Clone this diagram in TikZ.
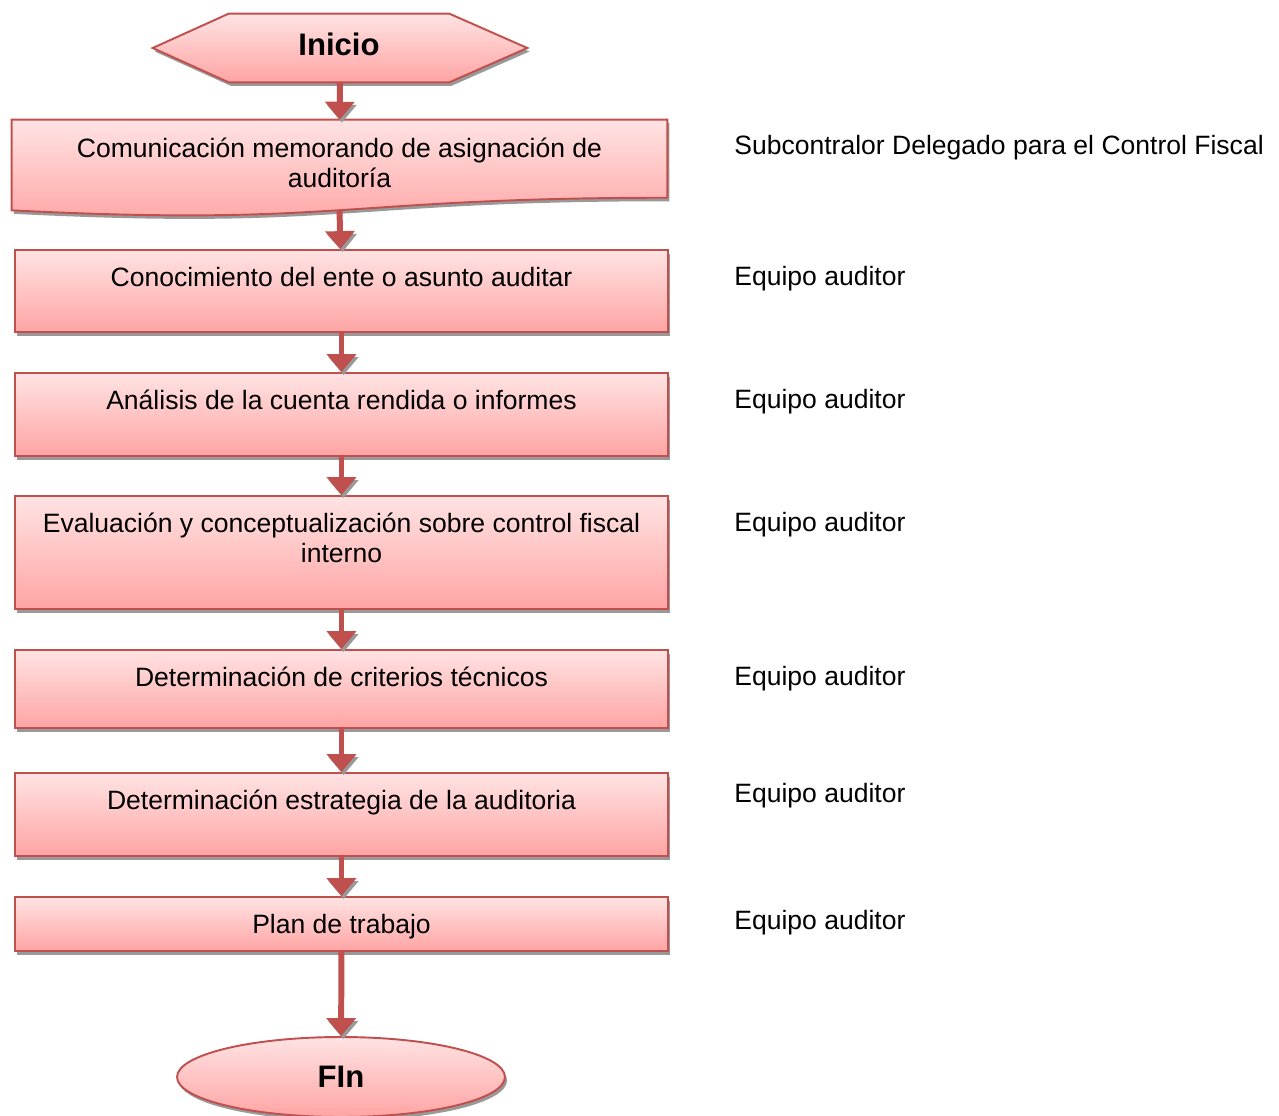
\documentclass[tikz,border=0pt]{standalone}
\usepackage{fontspec}
\setmainfont{Liberation Sans}
\usetikzlibrary{positioning,calc,shadows,shapes.geometric,arrows.meta}

\definecolor{accRed}{HTML}{C0504D}
\definecolor{boxTop}{HTML}{FFE3E3}
\definecolor{boxBot}{HTML}{FFA4A4}

\newcommand\stepfont{\fontsize{15.1pt}{17.1pt}\selectfont}
\newcommand\termfont{\fontsize{17.7pt}{20pt}\selectfont\bfseries}

\tikzset{
  shade box/.style={top color=boxTop, bottom color=boxBot, draw=accRed, line width=1.1pt,
    drop shadow={shadow xshift=1.2pt, shadow yshift=-2pt, fill=black!40, opacity=1}},
  stepbox/.style={shade box, rectangle, inner sep=0pt, minimum width=13.06cm},
  steptext/.style={inner sep=0pt, align=center, font=\stepfont},
  who/.style={anchor=base west, inner sep=0pt, font=\stepfont},
  flow/.style={line width=3.4pt, draw=accRed, -{Triangle[width=16.4pt,length=10.2pt]},
    preaction={draw=black!40, transform canvas={shift={(1.2pt,-1.7pt)}}}}
}

\begin{document}
\begin{tikzpicture}[x=0.02cm, y=-0.02cm]
  \useasboundingbox (0,0) rectangle (1279,1116);

  % Draw a step box #1 centred at height #2, #3 high, with text #4
  \def\drawStep#1#2#3#4{
    \node[stepbox, minimum height=#3] (#1) at (341.5,#2) {};
    \node[steptext, below=0.35cm of #1.north] (#1t) {#4};
  }
  % Who does the step
  \def\drawWho#1#2#3{
    \node[who] (#1) at (734,#2) {#3};
  }

  % start
  \node[inner sep=0pt, minimum width=7.48cm, minimum height=1.36cm] (ini) at (340,48) {};
  \path[shade box] (ini.west) -- ($(ini.north west)+(76,0)$) -- ($(ini.north east)+(-78,0)$)
    -- (ini.east) -- ($(ini.south east)+(-78,0)$) -- ($(ini.south west)+(76,0)$) -- cycle;
  \node[inner sep=0pt, font=\termfont] (init) at (339,44) {Inicio};

  % first step has a wavy bottom
  \node[inner sep=0pt, minimum width=13.1cm, minimum height=1.928cm] (b1) at (339.5,168.2) {};
  \path[shade box] (b1.north west) -- (b1.north east) -- ($(b1.south east)+(0,-19)$)
    .. controls ($(b1.south)+(0,-19)$) and ($(b1.south)+(0,10)$) .. ($(b1.south west)+(0,-6.4)$) -- cycle;
  \node[steptext, below=0.35cm of b1.north] (b1t) {Comunicación memorando de asignación de\\auditoría};

  \drawStep{b2}{291}{1.64cm}{Conocimiento del ente o asunto auditar}
  \drawStep{b3}{414.5}{1.66cm}{Análisis de la cuenta rendida o informes}
  \drawStep{b4}{552.5}{2.26cm}{Evaluación y conceptualización sobre control fiscal\\interno}
  \drawStep{b5}{689}{1.56cm}{Determinación de criterios técnicos}
  \drawStep{b6}{814.5}{1.66cm}{Determinación estrategia de la auditoria}
  \drawStep{b7}{924}{1.08cm}{Plan de trabajo}

  % end
  \node[shade box, ellipse, inner sep=0pt, minimum width=6.56cm, minimum height=1.6cm,
    font=\termfont] (fin) at (341,1077) {FIn};

  \drawWho{r1}{154}{Subcontralor Delegado para el Control Fiscal}
  \drawWho{r2}{285}{Equipo auditor}
  \drawWho{r3}{408}{Equipo auditor}
  \drawWho{r4}{531}{Equipo auditor}
  \drawWho{r5}{685}{Equipo auditor}
  \drawWho{r6}{802}{Equipo auditor}
  \drawWho{r7}{929}{Equipo auditor}

  \draw[flow] (ini) -- (b1);
  \draw[flow] ([yshift=3.7pt]b1.south) -- (b2);
  \foreach \a/\b in {b2/b3, b3/b4, b4/b5, b5/b6, b6/b7, b7/fin}
    \draw[flow] (\a) -- (\b);
\end{tikzpicture}
\end{document}
